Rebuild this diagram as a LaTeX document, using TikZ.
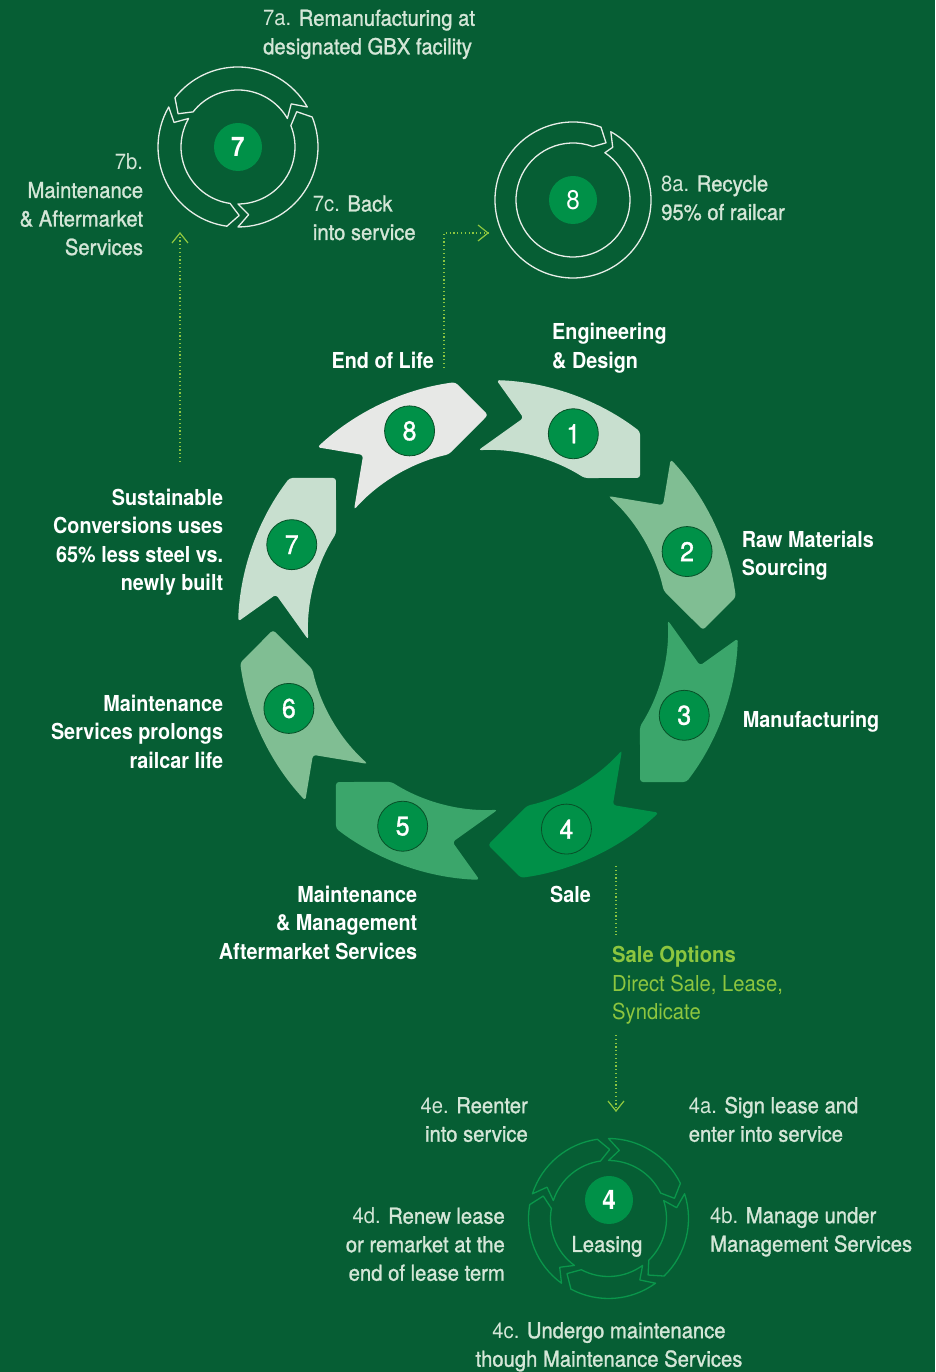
\documentclass[tikz,border=0pt]{standalone}
\usepackage{fontspec}
\setmainfont{TeX Gyre Heros}[FakeStretch=0.9]
\newfontfamily\medfont{TeX Gyre Heros}[FakeStretch=0.92, FakeBold=1.2]
\newfontfamily\lightfont{TeX Gyre Heros}[FakeStretch=0.92]
\definecolor{bg}{RGB}{6,94,52}
\definecolor{seg8}{RGB}{231,232,230}
\definecolor{seg1}{RGB}{200,223,207}
\definecolor{seg2}{RGB}{128,190,147}
\definecolor{seg3}{RGB}{59,166,107}
\definecolor{seg4}{RGB}{0,144,72}
\definecolor{numgreen}{RGB}{0,145,72}
\definecolor{numedge}{RGB}{8,80,40}
\definecolor{txtlight}{RGB}{212,230,215}
\definecolor{lime}{RGB}{141,198,63}
\definecolor{ringwhite}{RGB}{232,238,232}
\definecolor{leasegreen}{RGB}{10,150,75}
\begin{document}
\begin{tikzpicture}[x=1pt,y=1pt,
  lbl/.style={font=\medfont\fontsize{22}{28.5}\selectfont, inner sep=0pt, text=txtlight},
  steplbl/.style={font=\bfseries\fontsize{22}{28.5}\selectfont, inner sep=0pt, text=white},
  limelbl/.style={font=\lightfont\fontsize{22}{28.5}\selectfont, inner sep=0pt, text=lime},
  numc/.style={circle, fill=numgreen, draw=numedge, line width=0.8pt, minimum size=50pt, inner sep=0pt, text=white, font=\medfont\fontsize{27}{27}\selectfont},
  smallnum/.style={circle, fill=numgreen, minimum size=48pt, inner sep=0pt, text=white, font=\fontsize{27}{27}\selectfont},
  ringline/.style={draw=ringwhite, line width=1.3pt, line join=round},
  leaseline/.style={draw=leasegreen, line width=1.3pt, line join=round},
  dots/.style={draw=lime, line width=1.2pt, dash pattern=on 1.2pt off 2.6pt},
  chev/.style={draw=lime, line width=1.2pt},
]
\useasboundingbox (0,0) rectangle (935,1372);
\fill[bg] (0,0) rectangle (935,1372);

% main ring
\begin{scope}[shift={(488,742)}]
\foreach \k/\c in {1/seg1,2/seg2,3/seg3,4/seg4,5/seg3,6/seg2,7/seg1,8/seg8}{
  \pgfmathsetmacro\h{90-45*\k}
  \pgfmathsetmacro\t{\h+35.5}
  \fill[\c, rounded corners=3pt] ({\t+7.55}:250) arc[start angle={\t+7.55}, end angle={\h+7.55}, radius=250]
     -- (\h:215) -- ({\h+12.6}:180) arc[start angle={\h+12.6}, end angle={\t+12.6}, radius=180]
     -- (\t:215) -- cycle;
  \node[numc] (n\k) at ({\h+21.5}:214) {\k};
}
\end{scope}

% ring 7 (top left)
\begin{scope}[shift={(238,1225)}]
\foreach \h in {151,31,-89}{
  \pgfmathsetmacro\t{\h-112}
  \draw[ringline] ({\t-9}:80) arc[start angle={\t-9}, end angle={\h-9}, radius=80]
     -- (\h:68.5) -- ({\h-9}:57) arc[start angle={\h-9}, end angle={\t-9}, radius=57]
     -- (\t:68.5) -- cycle;
}
\node[smallnum] (s7) at (0,0) {\bfseries 7};
\end{scope}

% ring 8
\begin{scope}[shift={(573,1172)}]
\draw[ringline] (61:78) arc[start angle=61, end angle=-291, radius=78] -- (60:66) -- (69.5:57)
   arc[start angle=69.5, end angle=416, radius=57] -- (53:66) -- cycle;
\node[smallnum] (s8) at (0,0) {8};
\end{scope}

% leasing ring
\begin{scope}[shift={(608.5,153.5)}]
\foreach \h in {89,17,-55,-127,-199}{
  \pgfmathsetmacro\t{\h+64}
  \draw[leaseline] ({\t+9}:80) arc[start angle={\t+9}, end angle={\h+9}, radius=80]
     -- (\h:69) -- ({\h+9}:58) arc[start angle={\h+9}, end angle={\t+9}, radius=58]
     -- (\t:69) -- cycle;
}
\node[smallnum] (s4) at (0.5,18.5) {\bfseries 4};
\node[lbl, anchor=base] (leasing) at (-1.5,-33.5) {Leasing};
\end{scope}

% texts (base anchor = baseline of last line)
\node[lbl, anchor=base west, align=left] (t7a) at (263,1317.7) {{\lightfont 7a.} Remanufacturing at\\designated GBX facility};
\node[lbl, anchor=base east, align=right] (t7b) at (143.3,1117) {{\lightfont 7b.}\\Maintenance\\\& Aftermarket\\Services};
\node[lbl, anchor=base west, align=left] (t7c) at (312.7,1132) {{\lightfont 7c.} Back\\into service};
\node[lbl, anchor=base west, align=left] (t8a) at (661,1152) {{\lightfont 8a.} Recycle\\95\% of railcar};

\node[steplbl, anchor=base west, align=left] (l1) at (552,1003.7) {Engineering\\\& Design};
\node[steplbl, anchor=base east] (l8) at (434,1003.7) {End of Life};
\node[steplbl, anchor=base west, align=left] (l2) at (741.7,796) {Raw Materials\\Sourcing};
\node[steplbl, anchor=base west] (l3) at (742.7,644.3) {Manufacturing};
\node[steplbl, anchor=base east, align=right] (l7) at (223.3,781.3) {Sustainable\\Conversions uses\\65\% less steel vs.\\newly built};
\node[steplbl, anchor=base east, align=right] (l6) at (223.3,603.7) {Maintenance\\Services prolongs\\railcar life};
\node[steplbl, anchor=base east, align=right] (l5) at (417.4,412.7) {Maintenance\\\& Management\\Aftermarket Services};
\node[steplbl, anchor=base west] (l4) at (550,469.3) {Sale};
\node[limelbl, anchor=base west, align=left] (opt) at (612,352) {\textbf{Sale Options}\\Direct Sale, Lease,\\Syndicate};

\node[lbl, anchor=base east, align=right] (t4e) at (528,230.3) {{\lightfont 4e.} Reenter\\into service};
\node[lbl, anchor=base west, align=left] (t4a) at (688.6,230.3) {{\lightfont 4a.} Sign lease and\\enter into service};
\node[lbl, anchor=base east, align=right] (t4d) at (505,91.3) {{\lightfont 4d.} Renew lease\\or remarket at the\\end of lease term};
\node[lbl, anchor=base west, align=left] (t4b) at (710,120.3) {{\lightfont 4b.} Manage under\\Management Services};
\node[lbl, anchor=base, align=center] (t4c) at (609,5.3) {{\lightfont 4c.} Undergo maintenance\\though Maintenance Services};

% dotted connectors
\coordinate (a1s) at (180,910);
\coordinate (a1e) at (180,1139);
\draw[dots] (a1s) -- (a1e);
\draw[chev] ([shift={(-8,-10)}]a1e) -- (a1e) -- ([shift={(8,-10)}]a1e);

\coordinate (a2s) at (444,1004);
\coordinate (a2m) at (444,1139);
\coordinate (a2e) at (488,1139);
\draw[dots] (a2s) -- (a2m) -- (a2e);
\draw[chev] ([shift={(-10,8)}]a2e) -- (a2e) -- ([shift={(-10,-8)}]a2e);

\coordinate (a3s) at (616,506);
\coordinate (a3m) at (616,437);
\draw[dots] (a3s) -- (a3m);
\coordinate (a3n) at (616,337);
\coordinate (a3e) at (616,261);
\draw[dots] (a3n) -- (a3e);
\draw[chev] ([shift={(-8,10)}]a3e) -- (a3e) -- ([shift={(8,10)}]a3e);
\end{tikzpicture}
\end{document}
